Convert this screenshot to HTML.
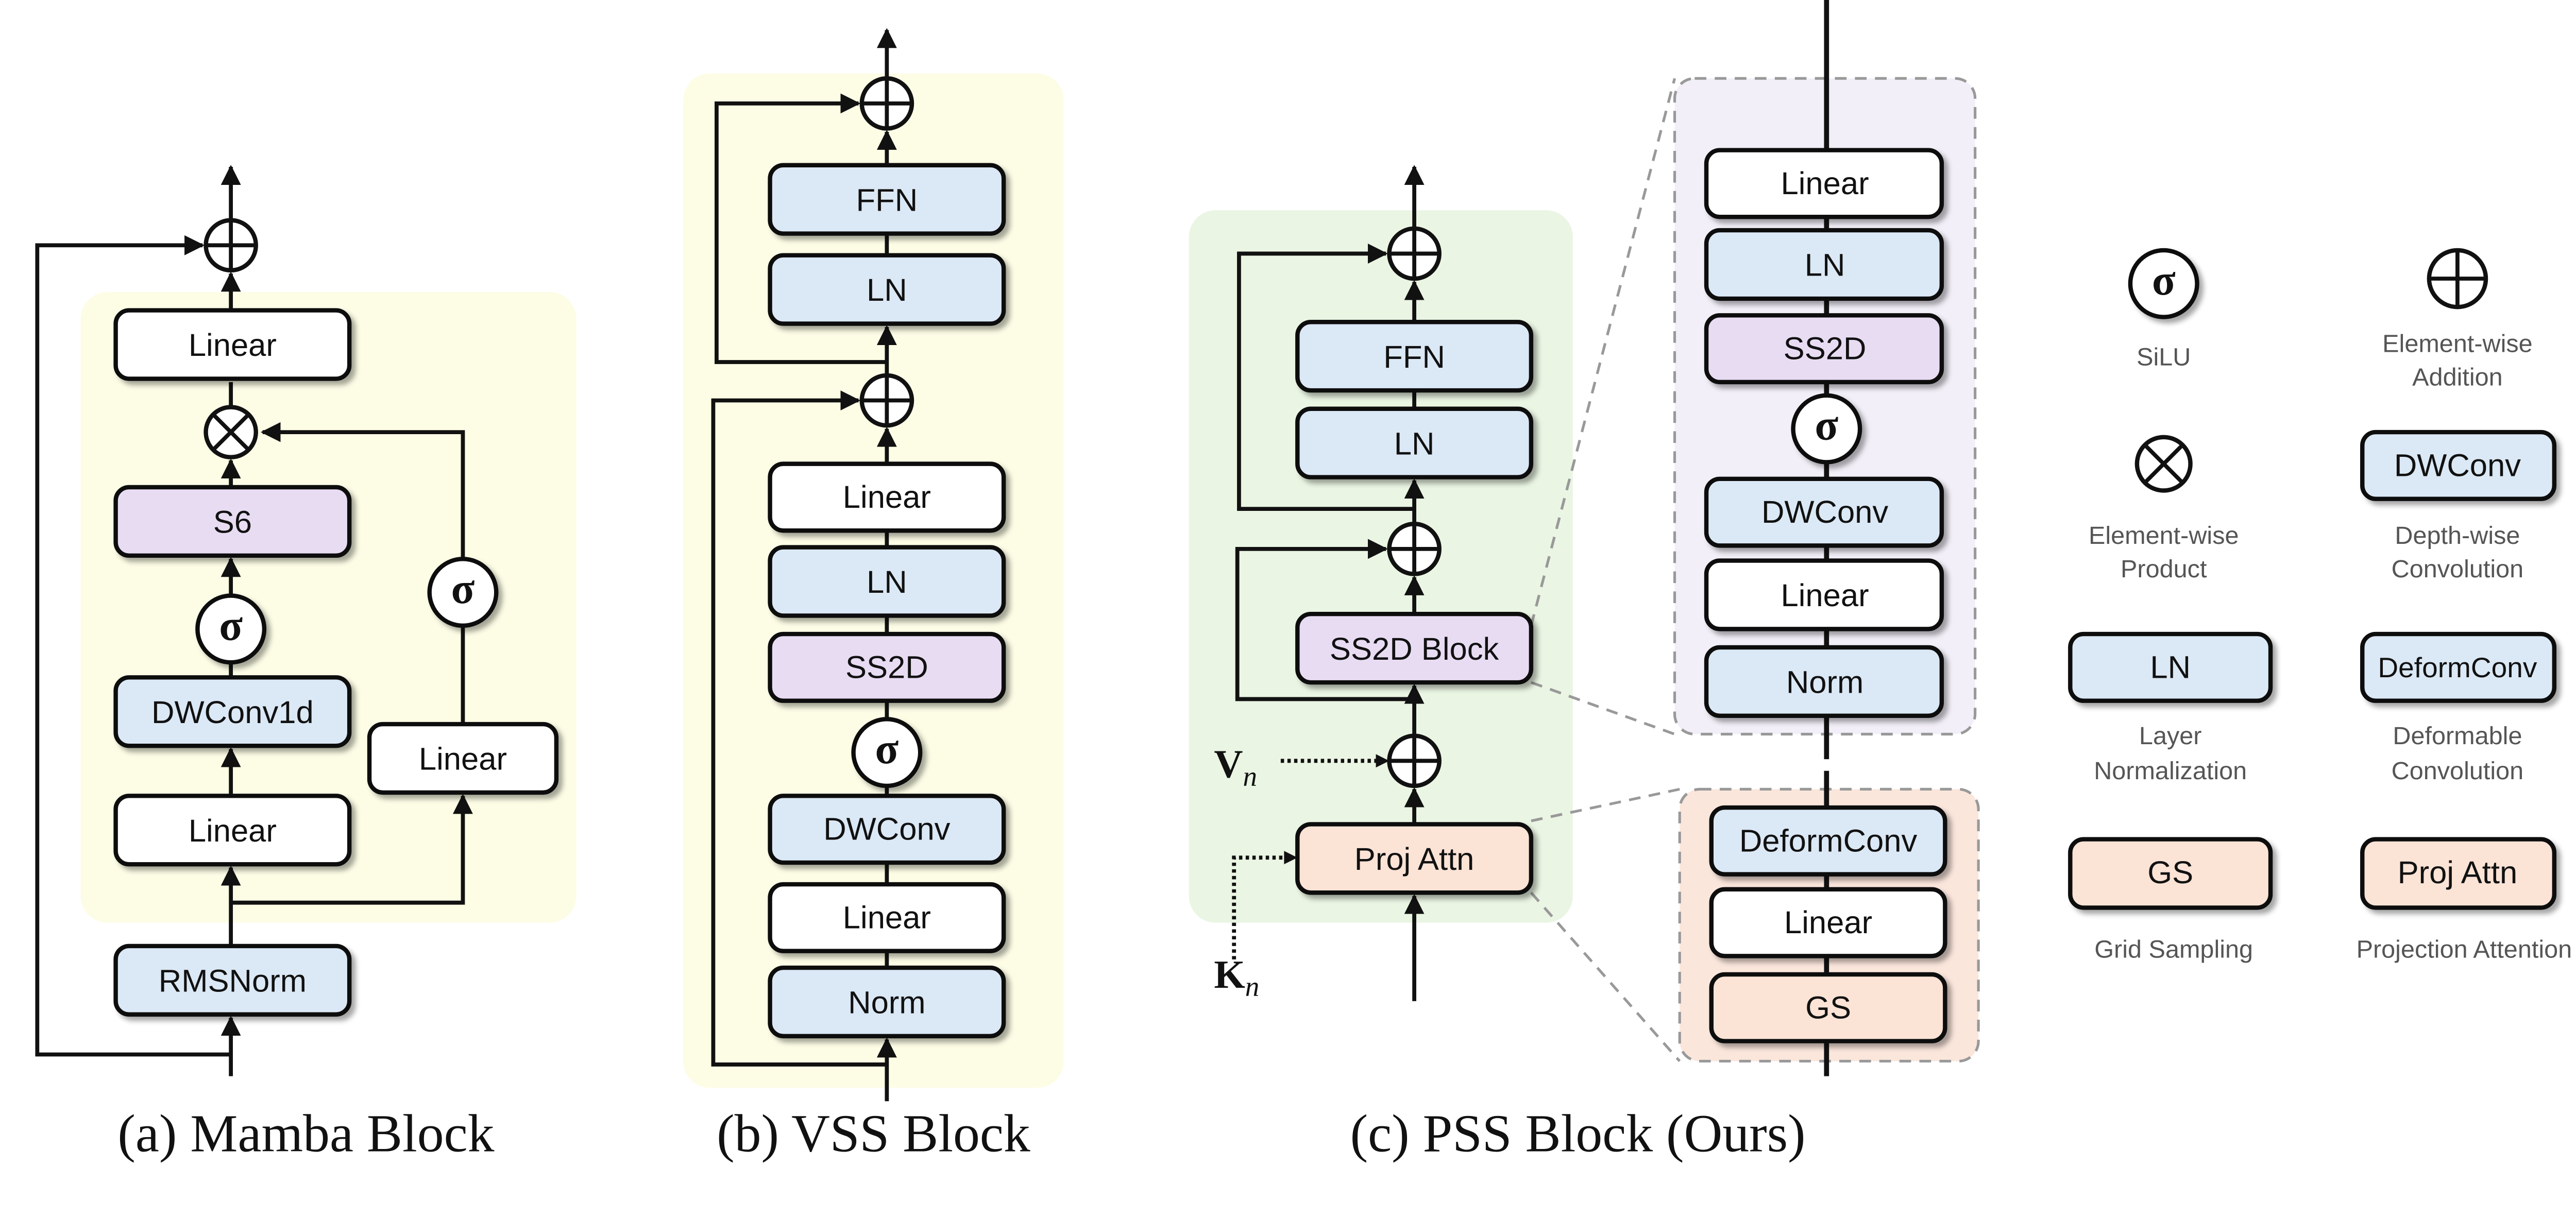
<!DOCTYPE html>
<html><head><meta charset="utf-8"><style>
html,body{margin:0;padding:0;background:#fff;width:5082px;height:2365px;overflow:hidden}
svg{display:block}
.bx{stroke:#111;stroke-width:2.6}
.t{font-family:"Liberation Sans",sans-serif;font-size:19px;fill:#111;text-anchor:middle;dominant-baseline:central}
.lg{font-family:"Liberation Sans",sans-serif;font-size:15px;fill:#555;text-anchor:middle}
.cap{font-family:"Liberation Serif",serif;font-size:32px;fill:#111;text-anchor:middle}
.ln{stroke:#111;stroke-width:2.4;fill:none}
.w{fill:#fff}.b{fill:#dbe8f5}.p{fill:#e8dcf3}.o{fill:#fbe3d6}
.sg{font-family:"Liberation Serif",serif;font-size:26px;font-weight:bold;fill:#111;text-anchor:middle;dominant-baseline:central}
</style></head><body>
<svg width="5082" height="2365" viewBox="0 0 1568 730" xmlns="http://www.w3.org/2000/svg">
<defs>
<marker id="a" viewBox="0 0 10 10" refX="9" refY="5" markerWidth="5" markerHeight="5" orient="auto"><path d="M0,0 L10,5 L0,10 z" fill="#111"/></marker>
<filter id="sh" x="-10%" y="-20%" width="130%" height="160%"><feDropShadow dx="2.5" dy="2.5" stdDeviation="1.5" flood-color="#000" flood-opacity="0.35"/></filter>
</defs>
<rect x="48" y="175" width="297" height="378" rx="16" fill="#fdfde6"/>
<rect x="409" y="44" width="228" height="608" rx="16" fill="#fdfde6"/>
<rect x="712" y="126" width="230" height="427" rx="16" fill="#eaf5e3"/>
<rect x="1003" y="47" width="180" height="393" rx="12" fill="#f2eff8" stroke="#999" stroke-width="1.6" stroke-dasharray="7,5"/>
<rect x="1006" y="473" width="179" height="163" rx="12" fill="#fbe6dc" stroke="#999" stroke-width="1.6" stroke-dasharray="7,5"/>
<g stroke="#999" stroke-width="1.6" stroke-dasharray="7,5">
<line x1="917" y1="375" x2="1003" y2="47"/><line x1="917" y1="409" x2="1003" y2="440"/>
<line x1="917" y1="492" x2="1006" y2="473"/><line x1="917" y1="535" x2="1006" y2="636"/>
</g>

<g class="ln">
<line x1="138" y1="645" x2="138" y2="610" marker-end="url(#a)"/>
<line x1="138" y1="567" x2="138" y2="520" marker-end="url(#a)"/>
<polyline points="138,541 277,541 277,477" marker-end="url(#a)"/>
<line x1="138" y1="477" x2="138" y2="449" marker-end="url(#a)"/>
<line x1="138" y1="406" x2="138" y2="397"/>
<line x1="138" y1="357" x2="138" y2="335" marker-end="url(#a)"/>
<line x1="138" y1="292" x2="138" y2="276" marker-end="url(#a)"/>
<line x1="277" y1="434" x2="277" y2="375"/>
<polyline points="277,335 277,259 157,259" marker-end="url(#a)"/>
<line x1="138" y1="244" x2="138" y2="229"/>
<line x1="138" y1="186" x2="138" y2="164" marker-end="url(#a)"/>
<polyline points="138,632 22,632 22,147 121,147" marker-end="url(#a)"/>
<line x1="138" y1="147" x2="138" y2="100" marker-end="url(#a)"/>
</g>
<g filter="url(#sh)">
<rect class="bx w" x="69" y="186" width="140" height="41" rx="8"/>
<rect class="bx p" x="69" y="292" width="140" height="41" rx="8"/>
<rect class="bx b" x="69" y="406" width="140" height="41" rx="8"/>
<rect class="bx w" x="69" y="477" width="140" height="41" rx="8"/>
<rect class="bx w" x="221" y="434" width="112" height="41" rx="8"/>
<rect class="bx b" x="69" y="567" width="140" height="41" rx="8"/>
<circle class="bx w" cx="138" cy="377" r="20"/>
<circle class="bx w" cx="277" cy="355" r="20"/>
</g>
<circle class="bx w" cx="138" cy="147" r="15"/><path class="ln" d="M123,147H153M138,132V162"/>
<circle class="bx w" cx="138" cy="259" r="15"/><path class="ln" d="M127.4,248.4L148.6,269.6M148.6,248.4L127.4,269.6"/>
<text class="t" x="139" y="207">Linear</text>
<text class="t" x="139" y="313">S6</text>
<text class="t" x="139" y="427">DWConv1d</text>
<text class="t" x="139" y="498">Linear</text>
<text class="t" x="277" y="455">Linear</text>
<text class="t" x="139" y="588">RMSNorm</text>
<text class="sg" x="138" y="375">σ</text><text class="sg" x="277" y="353">σ</text>
<text class="cap" x="183" y="700" dy="-10">(a) Mamba Block</text>

<g class="ln">
<line x1="531" y1="660" x2="531" y2="623" marker-end="url(#a)"/>
<line x1="531" y1="580" x2="531" y2="570"/><line x1="531" y1="530" x2="531" y2="517"/>
<line x1="531" y1="477" x2="531" y2="471"/><line x1="531" y1="431" x2="531" y2="420"/>
<line x1="531" y1="380" x2="531" y2="369"/><line x1="531" y1="328" x2="531" y2="318"/>
<line x1="531" y1="278" x2="531" y2="257" marker-end="url(#a)"/>
<polyline points="531,638 427,638 427,240 514,240" marker-end="url(#a)"/>
<line x1="531" y1="225" x2="531" y2="196" marker-end="url(#a)"/>
<line x1="531" y1="153" x2="531" y2="140"/>
<line x1="531" y1="99" x2="531" y2="79" marker-end="url(#a)"/>
<polyline points="531,217 429,217 429,62 514,62" marker-end="url(#a)"/>
<line x1="531" y1="62" x2="531" y2="18" marker-end="url(#a)"/>
</g>
<g filter="url(#sh)">
<rect class="bx b" x="461" y="99" width="140" height="41" rx="8"/>
<rect class="bx b" x="461" y="153" width="140" height="41" rx="8"/>
<rect class="bx w" x="461" y="278" width="140" height="40" rx="8"/>
<rect class="bx b" x="461" y="328" width="140" height="41" rx="8"/>
<rect class="bx p" x="461" y="380" width="140" height="40" rx="8"/>
<rect class="bx b" x="461" y="477" width="140" height="40" rx="8"/>
<rect class="bx w" x="461" y="530" width="140" height="40" rx="8"/>
<rect class="bx b" x="461" y="580" width="140" height="41" rx="8"/>
<circle class="bx w" cx="531" cy="451" r="20"/>
</g>
<circle class="bx w" cx="531" cy="62" r="15"/><path class="ln" d="M516,62H546M531,47V77"/>
<circle class="bx w" cx="531" cy="240" r="15"/><path class="ln" d="M516,240H546M531,225V255"/>
<text class="t" x="531" y="120">FFN</text><text class="t" x="531" y="174">LN</text>
<text class="t" x="531" y="298">Linear</text><text class="t" x="531" y="349">LN</text>
<text class="t" x="531" y="400">SS2D</text><text class="t" x="531" y="497">DWConv</text>
<text class="t" x="531" y="550">Linear</text><text class="t" x="531" y="601">Norm</text>
<text class="sg" x="531" y="449">σ</text>
<text class="cap" x="523" y="690">(b) VSS Block</text>

<g class="ln">
<line x1="847" y1="600" x2="847" y2="537" marker-end="url(#a)"/>
<line x1="847" y1="494" x2="847" y2="473" marker-end="url(#a)"/>
<line x1="847" y1="441" x2="847" y2="411" marker-end="url(#a)"/>
<polyline points="847,419 741,419 741,329 830,329" marker-end="url(#a)"/>
<line x1="847" y1="368" x2="847" y2="346" marker-end="url(#a)"/>
<line x1="847" y1="314" x2="847" y2="288" marker-end="url(#a)"/>
<polyline points="847,305 742,305 742,152 830,152" marker-end="url(#a)"/>
<line x1="847" y1="245" x2="847" y2="234"/>
<line x1="847" y1="193" x2="847" y2="169" marker-end="url(#a)"/>
<line x1="847" y1="152" x2="847" y2="100" marker-end="url(#a)"/>
<line x1="1094" y1="0" x2="1094" y2="455" stroke-width="3"/>
<line x1="1094" y1="462" x2="1094" y2="645" stroke-width="3"/>
</g>
<g stroke="#111" stroke-width="2.4" fill="none" stroke-dasharray="2,2">
<line x1="767" y1="456" x2="826" y2="456"/>
<polyline points="739,575 739,514 771,514"/>
</g>
<path d="M832,456 l-8,-4 v8z M777,514 l-8,-4 v8z" fill="#111"/>
<g filter="url(#sh)">
<rect class="bx b" x="777" y="193" width="140" height="41" rx="8"/>
<rect class="bx b" x="777" y="245" width="140" height="41" rx="8"/>
<rect class="bx p" x="777" y="368" width="140" height="41" rx="8"/>
<rect class="bx o" x="777" y="494" width="140" height="41" rx="8"/>
<rect class="bx w" x="1022" y="90" width="141" height="40" rx="8"/>
<rect class="bx b" x="1022" y="138" width="141" height="41" rx="8"/>
<rect class="bx p" x="1022" y="189" width="141" height="40" rx="8"/>
<rect class="bx b" x="1022" y="287" width="141" height="40" rx="8"/>
<rect class="bx w" x="1022" y="336" width="141" height="41" rx="8"/>
<rect class="bx b" x="1022" y="388" width="141" height="41" rx="8"/>
<circle class="bx w" cx="1094" cy="257" r="20"/>
<rect class="bx b" x="1025" y="484" width="140" height="40" rx="8"/>
<rect class="bx w" x="1025" y="533" width="140" height="40" rx="8"/>
<rect class="bx o" x="1025" y="584" width="140" height="40" rx="8"/>
</g>
<circle class="bx w" cx="847" cy="152" r="15"/><path class="ln" d="M832,152H862M847,137V167"/>
<circle class="bx w" cx="847" cy="329" r="15"/><path class="ln" d="M832,329H862M847,314V344"/>
<circle class="bx w" cx="847" cy="456" r="15"/><path class="ln" d="M832,456H862M847,441V471"/>
<text class="t" x="847" y="214">FFN</text><text class="t" x="847" y="266">LN</text>
<text class="t" x="847" y="389">SS2D Block</text><text class="t" x="847" y="515">Proj Attn</text>
<text class="t" x="1093" y="110">Linear</text><text class="t" x="1093" y="159">LN</text>
<text class="t" x="1093" y="209">SS2D</text><text class="t" x="1093" y="307">DWConv</text>
<text class="t" x="1093" y="357">Linear</text><text class="t" x="1093" y="409">Norm</text>
<text class="t" x="1095" y="504">DeformConv</text><text class="t" x="1095" y="553">Linear</text>
<text class="t" x="1095" y="604">GS</text>
<text class="sg" x="1094" y="255">σ</text>
<text x="727" y="466" font-family="Liberation Serif,serif" font-size="24" font-weight="bold" fill="#111">V<tspan font-style="italic" font-weight="normal" font-size="17" dy="5">n</tspan></text>
<text x="727" y="592" font-family="Liberation Serif,serif" font-size="24" font-weight="bold" fill="#111">K<tspan font-style="italic" font-weight="normal" font-size="17" dy="5">n</tspan></text>
<text class="cap" x="945" y="690">(c) PSS Block (Ours)</text>

<g filter="url(#sh)">
<circle class="bx w" cx="1296" cy="170" r="20"/>
<rect class="bx b" x="1415" y="259" width="115" height="40" rx="8"/>
<rect class="bx b" x="1240" y="380" width="120" height="40" rx="8"/>
<rect class="bx b" x="1415" y="380" width="115" height="40" rx="8"/>
<rect class="bx o" x="1240" y="503" width="120" height="41" rx="8"/>
<rect class="bx o" x="1415" y="503" width="115" height="41" rx="8"/>
</g>
<text class="sg" x="1296" y="168">σ</text>
<circle class="bx w" cx="1472" cy="167" r="17"/><path class="ln" d="M1455,167H1489M1472,150V184"/>
<circle class="bx w" cx="1296" cy="278" r="16"/><path class="ln" d="M1284.7,266.7L1307.3,289.3M1307.3,266.7L1284.7,289.3"/>
<text class="t" x="1472" y="279">DWConv</text><text class="t" x="1300" y="400">LN</text>
<text class="t" x="1472" y="400" style="font-size:17px">DeformConv</text>
<text class="t" x="1300" y="523">GS</text><text class="t" x="1472" y="523">Proj Attn</text>
<text class="lg" x="1296" y="219">SiLU</text>
<text class="lg" x="1472" y="211">Element-wise</text><text class="lg" x="1472" y="231">Addition</text>
<text class="lg" x="1296" y="326">Element-wise</text><text class="lg" x="1296" y="346">Product</text>
<text class="lg" x="1472" y="326">Depth-wise</text><text class="lg" x="1472" y="346">Convolution</text>
<text class="lg" x="1300" y="446">Layer</text><text class="lg" x="1300" y="467">Normalization</text>
<text class="lg" x="1472" y="446">Deformable</text><text class="lg" x="1472" y="467">Convolution</text>
<text class="lg" x="1302" y="574">Grid Sampling</text><text class="lg" x="1476" y="574">Projection Attention</text>
</svg>
</body></html>
